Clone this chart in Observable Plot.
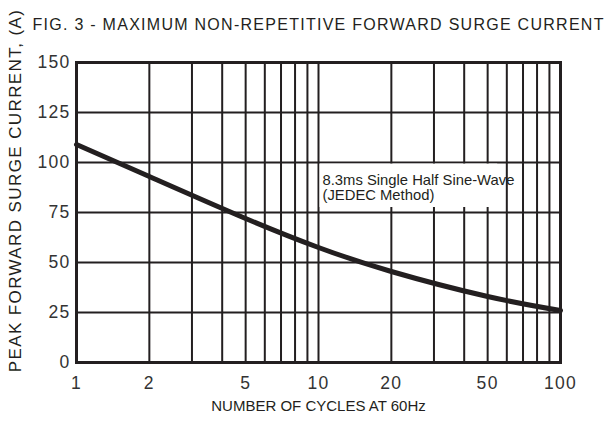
<!DOCTYPE html>
<html><head><meta charset="utf-8">
<script src="https://cdn.jsdelivr.net/npm/d3@7"></script>
<script src="https://cdn.jsdelivr.net/npm/@observablehq/plot@0.6"></script>
<style>body{margin:0;background:#fff;} svg{display:block;}</style>
</head><body><div id="chart"></div>
<script>
const title = "FIG. 3 - MAXIMUM NON-REPETITIVE FORWARD SURGE CURRENT";
const yTitle = "PEAK FORWARD SURGE CURRENT, (A)";
const xTitle = "NUMBER OF CYCLES AT 60Hz";
const annotationText = "8.3ms Single Half Sine-Wave\n(JEDEC Method)";
const cycles = [1, 2, 5, 10, 20, 50, 100];
const current = [109, 93, 72, 57.5, 45.5, 33, 26];
const xGrid = [1,2,3,4,5,6,7,8,9,10,20,30,40,50,60,70,80,90,100];
const yGrid = [0,25,50,75,100,125,150];
const xTickLabels = [1,2,5,10,20,50,100];
const boxX = [10, 55];
const boxY = [77.5, 99.2];
const labelPos = {x: 10, y: 87.5};

const data = cycles.map((c,i)=>({x:c, y:current[i]}));
const font = "'Liberation Sans', Arial, sans-serif";
const ink = "#231f20";

const chart = Plot.plot({
  width: 609, height: 421,
  marginLeft: 76, marginRight: 49, marginTop: 62, marginBottom: 59,
  style: {fontFamily: font, background: "#fff", color: ink},
  x: {type: "log", domain: [1,100], axis: null},
  y: {domain: [0,150], axis: null},
  marks: [
    Plot.ruleX(xGrid, {stroke: ink, strokeWidth: 2}),
    Plot.ruleY(yGrid, {stroke: ink, strokeWidth: 2}),
    Plot.rect([0], {x1: () => boxX[0], x2: () => boxX[1], y1: () => boxY[0], y2: () => boxY[1], fill: "#fff", insetLeft: 1.5}),
    Plot.text([annotationText], {x: () => labelPos.x, y: () => labelPos.y, textAnchor: "start", dx: 4, fontSize: 14.8, lineHeight: 1.05, fill: ink}),
    Plot.line(data, {x: "x", y: "y", curve: "natural", stroke: ink, strokeWidth: 5}),
    Plot.frame({stroke: ink, strokeWidth: 3}),
    Plot.text(yGrid, {x: 1, y: d => d, text: d => String(d), textAnchor: "end", dx: -6, fontSize: 17.5, fill: "#333"}),
    Plot.text(xTickLabels, {x: d => d, y: 0, text: d => String(d), dy: 21, fontSize: 17.5, fill: "#333"}),
    Plot.text([xTitle], {frameAnchor: "bottom", dy: 48, fontSize: 15, fill: ink}),
    Plot.text([title], {frameAnchor: "top-left", textAnchor: "start", dx: -44, dy: -44, fontSize: 16, fill: ink}),
    Plot.text([yTitle], {frameAnchor: "left", textAnchor: "middle", rotate: -90, dx: -61, dy: -22, fontSize: 17, fill: ink})
  ]
});
const sel = d3.select(chart).selectAll("text");
sel.filter(function(){ return this.textContent === title; }).style("letter-spacing", "1.27px");
sel.filter(function(){ return this.textContent === yTitle; }).style("letter-spacing", "1.4px");
sel.filter(function(){ return /^\d+$/.test(this.textContent); }).style("letter-spacing", "1.3px");
document.getElementById("chart").appendChild(chart);
</script></body></html>
